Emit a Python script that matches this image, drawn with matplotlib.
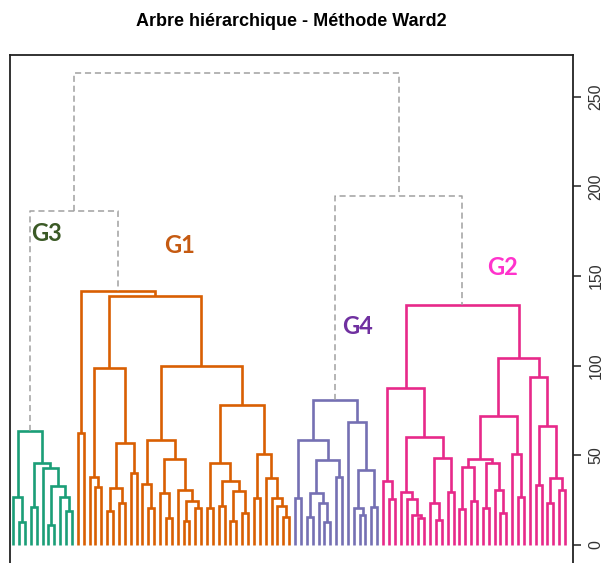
import numpy as np
import matplotlib.pyplot as plt

g3_tree = (63.5, (27, 0, (13, 0, 0)),
           (46, (21, 0, 0), (43, 0, (33, (11, 0, 0), (27, 0, (19, 0, 0))))))
g1_tree = (141.8, (62.5, 0, 0),
           (139,
            (98.7, (38, 0, (32.6, 0, 0)),
             (57, (31.6, (19, 0, 0), (23.4, 0, 0)), (40.4, 0, 0))),
            (99.6,
             (58.3, (33.9, 0, (20.5, 0, 0)),
              (47.8, (28.9, 0, (14.9, 0, 0)),
               (30.7, 0, (24.8, (13.6, 0, 0), (20.5, 0, 0))))),
             (78.2,
              (45.6, (20.8, 0, 0),
               (35.9, (21.8, 0, 0), (30.3, (13.6, 0, 0), (18, 0, 0)))),
              (50.8, (26, 0, 0),
               (37.6, 0, (26, 0, (21.8, 0, (15.8, 0, 0)))))))))
g4_tree = (81, (58.7, (26, 0, 0),
                (47.5, (28.9, (15.8, 0, 0), (23.6, 0, (13, 0, 0))), (37.8, 0, 0))),
           (68.5, 0, (41.9, (20.5, 0, (16.8, 0, 0)), (21, 0, 0))))
g2_tree = (134,
           (87.5, (35.9, 0, (25.5, 0, 0)),
            (60, (29.8, 0, (25.5, 0, (16.8, 0, (14.9, 0, 0)))),
             (48.4, (23.3, 0, (14, 0, 0)), (29.8, 0, 0)))),
           (104.3,
            (71.7,
             (48, (43.7, (19.9, 0, 0), (24.7, 0, 0)),
              (45.6, (20.5, 0, 0), (30.7, 0, (17.7, 0, 0)))),
             (50.8, 0, (26.6, 0, 0))),
            (93.7, 0, (66.1, (33.5, 0, 0), (37.2, (23.6, 0, 0), (30.7, 0, 0))))))

# clusters from left to right
groups = ['G3', 'G1', 'G4', 'G2']
trees = [g3_tree, g1_tree, g4_tree, g2_tree]
branch_colors = ['#1b9e77', '#d95f02', '#7570b3', '#e7298a']
label_colors = ['#3b5a26', '#c55a11', '#7030a0', '#ff33cc']

# merges above the clusters
h_g3_g1 = 186.5
h_g4_g2 = 194.7
h_root = 263

yticks = [0, 50, 100, 150, 200, 250]

fig = plt.figure(figsize=(6.05, 5.63), dpi=100)
ax = fig.add_axes([0.0165, -0.0062, 0.9306, 0.9085])

pos = [0]


def draw(node, color):
    # returns (x, height) of the node and draws its branches
    if node == 0:
        x = pos[0]
        pos[0] += 1
        return x, 0
    h, left, right = node
    xl, hl = draw(left, color)
    xr, hr = draw(right, color)
    ax.plot([xl, xl, xr, xr], [hl, h, h, hr], color=color, lw=1.9,
            solid_joinstyle='miter', solid_capstyle='butt')
    return (xl + xr) / 2, h


tops = {}
for g, tree, col in zip(groups, trees, branch_colors):
    tops[g] = draw(tree, col)


def link(a, b, h):
    ax.plot([a[0], a[0], b[0], b[0]], [a[1], h, h, b[1]], color='#a0a0a0',
            lw=1.1, linestyle=(0, (4, 2.5)))
    return (a[0] + b[0]) / 2, h


left = link(tops['G3'], tops['G1'], h_g3_g1)
right = link(tops['G4'], tops['G2'], h_g4_g2)
link(left, right, h_root)

# group labels
label_xy = {'G3': (5.6, 173.5), 'G1': (28.4, 167.3), 'G4': (58.7, 122.1), 'G2': (83.4, 154.5)}
for g, col in zip(groups, label_colors):
    ax.text(label_xy[g][0], label_xy[g][1], g, color=col, fontsize=17,
            fontweight='bold', family='Lato', ha='center', va='center')

ax.set_xlim(-0.56, 95.35)
ax.set_ylim(-12, 273.3)
ax.set_xticks([])
ax.yaxis.tick_right()
ax.set_yticks(yticks)
ax.set_yticklabels([str(t) for t in yticks], rotation=90, va='center',
                   family='Liberation Sans', fontsize=11.5, color='#333333')
ax.tick_params(axis='y', direction='out', length=6, width=1.2, pad=5, colors='#333333')
for s in ax.spines.values():
    s.set_linewidth(1.3)
    s.set_color('#222222')

fig.text(0.482, 1 - 21 / 563, 'Arbre hiérarchique - Méthode Ward2', ha='center',
         va='center', fontsize=13, fontweight='bold', family='Liberation Sans')

fig.savefig('out.png', dpi=100)
